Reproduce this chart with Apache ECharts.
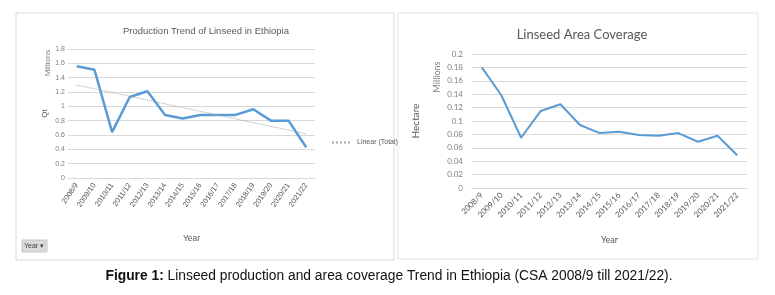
<!DOCTYPE html>
<html>
<head>
<meta charset="utf-8">
<title>Linseed production and area coverage</title>
<script src="https://cdn.jsdelivr.net/npm/echarts@6/dist/echarts.min.js"></script>
<style>
  html, body { margin: 0; padding: 0; background: #fff; }
  #chart { width: 775px; height: 295px; }
</style>
</head>
<body>
<div id="chart"></div>
<script>
const years = ['2008/9', '2009/10', '2010/11', '2011/12', '2012/13', '2013/14', '2014/15',
  '2015/16', '2016/17', '2017/18', '2018/19', '2019/20', '2020/21', '2021/22'];

// production, millions of quintals
const production = [1.56, 1.51, 0.64, 1.13, 1.21, 0.88, 0.83, 0.88, 0.88, 0.88, 0.96, 0.80, 0.80, 0.43];

// area, millions of hectares
const area = [0.18, 0.138, 0.075, 0.115, 0.125, 0.094, 0.082, 0.084, 0.079, 0.078, 0.082, 0.069, 0.078, 0.049];

const prodTicks = [0, 0.2, 0.4, 0.6, 0.8, 1, 1.2, 1.4, 1.6, 1.8];
const areaTicks = [0, 0.02, 0.04, 0.06, 0.08, 0.1, 0.12, 0.14, 0.16, 0.18, 0.2];

// excel style linear trendline (least squares over the production values)
const linearFit = (vals) => {
  const n = vals.length;
  const mx = (n - 1) / 2;
  const my = vals.reduce((a, b) => a + b, 0) / n;
  let sxy = 0;
  let sxx = 0;
  vals.forEach((v, i) => {
    sxy += (i - mx) * (v - my);
    sxx += (i - mx) * (i - mx);
  });
  const k = sxy / sxx;
  return vals.map((v, i) => +(my + k * (i - mx)).toFixed(4));
};
const trend = linearFit(production);

const font = 'Lato, "Open Sans", sans-serif';
const narrow = '"Liberation Sans", Arial, sans-serif';

const chart = echarts.init(document.getElementById('chart'), null, { renderer: 'canvas' });

const xAxisBase = (gridIndex, fontSize, fontFamily, rotate) => ({
  type: 'category',
  gridIndex,
  data: years,
  boundaryGap: true,
  axisLine: { lineStyle: { color: '#d9d9d9' } },
  axisTick: { show: false },
  axisLabel: { rotate, interval: 0, color: '#595959', fontSize, fontFamily, margin: 6 },
  name: 'Year',
  nameLocation: 'middle',
  nameTextStyle: { color: '#595959', fontSize: fontSize + 1, fontFamily },
});

chart.setOption({
  animation: false,
  backgroundColor: '#fff',
  title: [
    {
      text: 'Production Trend of Linseed in Ethiopia',
      left: 201, top: 21, textAlign: 'center',
      textStyle: { color: '#595959', fontSize: 9.5, fontWeight: 'normal', fontFamily: narrow },
    },
    {
      text: 'Linseed Area Coverage',
      left: 577, top: 23, textAlign: 'center',
      textStyle: { color: '#595959', fontSize: 13, fontWeight: 'normal', fontFamily: font },
    },
  ],
  legend: {
    data: ['Linear (Total)'],
    left: 326, top: 134,
    itemWidth: 20, itemHeight: 8, itemGap: 3,
    itemStyle: { opacity: 0 },
    textStyle: { color: '#595959', fontSize: 7, fontFamily: narrow },
  },
  grid: [
    { left: 68, right: 460, top: 49, bottom: 117 },
    { left: 472, right: 28, top: 54, bottom: 107 },
  ],
  xAxis: [
    { ...xAxisBase(0, 7.5, narrow, 55), nameGap: 56 },
    { ...xAxisBase(1, 8, font, 45), nameGap: 48 },
  ],
  yAxis: [
    {
      type: 'value', gridIndex: 0,
      min: prodTicks[0], max: prodTicks[prodTicks.length - 1], interval: 0.2,
      axisLine: { show: false }, axisTick: { show: false },
      splitLine: { lineStyle: { color: '#d9d9d9' } },
      axisLabel: { color: '#808080', fontSize: 7, fontFamily: narrow, margin: 3 },
      name: 'Qt', nameLocation: 'middle', nameGap: 19,
      nameTextStyle: { color: '#595959', fontSize: 8, fontFamily: narrow },
    },
    {
      type: 'value', gridIndex: 1,
      min: areaTicks[0], max: areaTicks[areaTicks.length - 1], interval: 0.02,
      axisLine: { show: false }, axisTick: { show: false },
      splitLine: { lineStyle: { color: '#d9d9d9' } },
      axisLabel: { color: '#808080', fontSize: 8, fontFamily: font, margin: 9 },
      name: 'Hectare', nameLocation: 'middle', nameGap: 51,
      nameTextStyle: { color: '#595959', fontSize: 10, fontFamily: font },
    },
  ],
  series: [
    {
      name: 'Total', type: 'line', xAxisIndex: 0, yAxisIndex: 0,
      data: production, showSymbol: false,
      lineStyle: { color: '#5b9bd5', width: 2.5 },
    },
    {
      name: 'Linear (Total)', type: 'line', xAxisIndex: 0, yAxisIndex: 0,
      data: trend, showSymbol: false, symbol: 'none',
      itemStyle: { color: '#a6a6a6' },
      lineStyle: { color: '#a6a6a6', width: 1, type: 'dotted' },
    },
    {
      name: 'Area', type: 'line', xAxisIndex: 1, yAxisIndex: 1,
      data: area, showSymbol: false,
      lineStyle: { color: '#5b9bd5', width: 2 },
    },
  ],
  graphic: [
    { type: 'rect', shape: { x: 16, y: 13, width: 378, height: 247 }, style: { fill: 'none', stroke: '#d9d9d9', lineWidth: 1 }, z: -1 },
    { type: 'rect', shape: { x: 398, y: 13, width: 360, height: 246 }, style: { fill: 'none', stroke: '#e3e3e3', lineWidth: 1 }, z: -1 },
    { type: 'text', x: 48, y: 63, rotation: Math.PI / 2, style: { text: 'Millions', fill: '#808080', fontSize: 8, fontFamily: narrow, align: 'center', verticalAlign: 'middle' } },
    { type: 'text', x: 437, y: 77, rotation: Math.PI / 2, style: { text: 'Millions', fill: '#808080', fontSize: 9, fontFamily: font, align: 'center', verticalAlign: 'middle' } },
    { type: 'rect', shape: { x: 22, y: 240, width: 25, height: 12 }, style: { fill: '#d9d9d9', stroke: '#c8c8c8' } },
    { type: 'text', x: 34, y: 246, style: { text: 'Year ▾', fill: '#404040', fontSize: 7, fontFamily: narrow, align: 'center', verticalAlign: 'middle' } },
    {
      type: 'text', x: 389, y: 276,
      style: {
        text: '{b|Figure 1:} Linseed production and area coverage Trend in Ethiopia (CSA 2008/9 till 2021/22).',
        fill: '#111', fontSize: 13.8, fontFamily: narrow, align: 'center', verticalAlign: 'middle',
        rich: { b: { fontWeight: 'bold', fontSize: 13.8, fontFamily: narrow, fill: '#111' } },
      },
    },
  ],
});

window.addEventListener('resize', () => chart.resize());
</script>
</body>
</html>
